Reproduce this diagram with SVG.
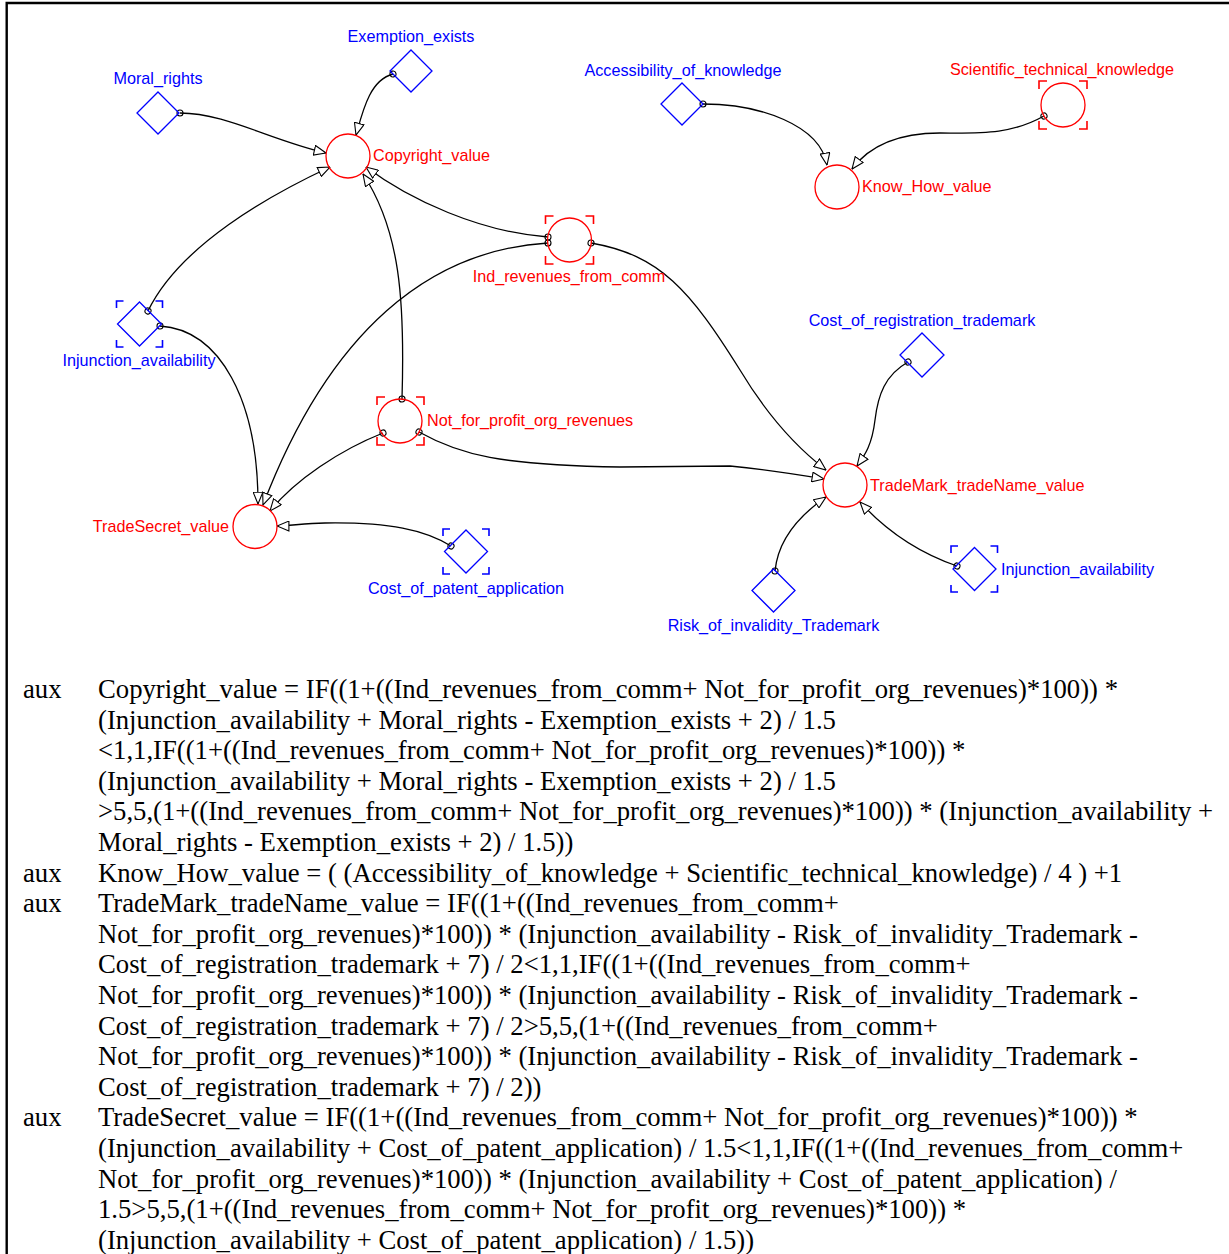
<svg xmlns="http://www.w3.org/2000/svg" width="1229" height="1254" viewBox="0 0 1229 1254">
<style>
.aux{fill:none;stroke:#0000ff;stroke-width:1.3}
.var{fill:none;stroke:#ff0000;stroke-width:1.3}
.brb{fill:none;stroke:#0000ff;stroke-width:1.6}
.brr{fill:none;stroke:#ff0000;stroke-width:1.6}
.lb{font-family:"Liberation Sans",Arial,sans-serif;font-size:16.2px;fill:#0000ff}
.lr{font-family:"Liberation Sans",Arial,sans-serif;font-size:16.2px;fill:#ff0000}
.c{text-anchor:middle}
.e{text-anchor:end}
.link{fill:none;stroke:#000;stroke-width:1.3;marker-start:url(#port);marker-end:url(#arr)}
.eq{font-family:"Liberation Serif","Times New Roman",serif;font-size:26.7px;fill:#000}
</style>
<defs>
<marker id="arr" viewBox="0 0 13 11" refX="12.5" refY="5.5" markerWidth="13" markerHeight="11" markerUnits="userSpaceOnUse" orient="auto">
<path d="M0.6,0.6 L12.5,5.5 L0.6,10.4 z" fill="#fff" stroke="#000" stroke-width="1.1"/>
</marker>
<marker id="port" viewBox="-4 -4 8 8" refX="0" refY="0" markerWidth="8" markerHeight="8" markerUnits="userSpaceOnUse" orient="auto">
<circle cx="0" cy="0" r="3" fill="none" stroke="#000" stroke-width="1.1"/>
</marker>
</defs>
<rect width="1229" height="1254" fill="#fff"/>
<path d="M5.5,3 H1229 M6.7,2 V1254" stroke="#000" stroke-width="2.4" fill="none"/>

<g id="connectors">
<path class="link" d="M180,113 C225,113 270,140 326,153"/>
<path class="link" d="M393,74 C370,80 363,110 356,135"/>
<path class="link" d="M148,311 C180,245 270,195 330,167"/>
<path class="link" d="M548,237 C480,232 410,200 366,167"/>
<path class="link" d="M402,399 C405,300 400,230 363,174"/>
<path class="link" d="M160,326 C220,330 258,400 258,504"/>
<path class="link" d="M548,243 C430,250 330,330 263,505"/>
<path class="link" d="M383,433 C340,450 295,480 270,511"/>
<path class="link" d="M451,546 C425,530 390,522 325,523 C305,523 290,526 277,526"/>
<path class="link" d="M591,243 C660,255 690,290 740,370 C770,420 800,450 826,470"/>
<path class="link" d="M419,432 C460,455 500,465 620,467 L730,466 C770,470 800,475 824,479"/>
<path class="link" d="M908,362 C885,375 878,395 875,420 C872,445 865,455 857,466"/>
<path class="link" d="M775,571 C778,540 800,515 826,497"/>
<path class="link" d="M957,566 C925,555 890,535 860,502"/>
<path class="link" d="M703,104 C760,104 820,125 827,165"/>
<path class="link" d="M1044,116 C1010,135 980,133 940,133 C900,133 870,145 852,169"/>
</g>

<g id="Moral_rights">
<polygon class="aux" points="158,92 179,113 158,134 137,113"/>
<text class="lb c" x="158" y="84">Moral_rights</text>
</g>
<g id="Exemption_exists">
<polygon class="aux" points="411,50 432,71 411,92 390,71"/>
<text class="lb c" x="411" y="42">Exemption_exists</text>
</g>
<g id="Copyright_value">
<circle class="var" cx="348" cy="156" r="22"/>
<text class="lr" x="373" y="161">Copyright_value</text>
</g>
<g id="Accessibility_of_knowledge">
<polygon class="aux" points="682,83 703,104 682,125 661,104"/>
<text class="lb c" x="683" y="76">Accessibility_of_knowledge</text>
</g>
<g id="Scientific_technical_knowledge">
<circle class="var" cx="1063" cy="105" r="22"/>
<path class="brr" d="M1039,89 V81 H1047 M1079,81 H1087 V89 M1087,121 V129 H1079 M1047,129 H1039 V121"/>
<text class="lr c" x="1062" y="75">Scientific_technical_knowledge</text>
</g>
<g id="Know_How_value">
<circle class="var" cx="837" cy="187" r="22"/>
<text class="lr" x="862" y="192">Know_How_value</text>
</g>
<g id="Ind_revenues_from_comm">
<circle class="var" cx="569.5" cy="240" r="22"/>
<path class="brr" d="M545.5,224 V216 H553.5 M585.5,216 H593.5 V224 M593.5,256 V264 H585.5 M553.5,264 H545.5 V256"/>
<text class="lr c" x="569" y="282">Ind_revenues_from_comm</text>
</g>
<g id="Injunction_availability_1">
<polygon class="aux" points="139.5,302 161.5,324 139.5,346 117.5,324"/>
<path class="brb" d="M116.5,308 V301 H123.5 M155.5,301 H162.5 V308 M162.5,340 V347 H155.5 M123.5,347 H116.5 V340"/>
<text class="lb c" x="139" y="366">Injunction_availability</text>
</g>
<g id="Not_for_profit_org_revenues">
<circle class="var" cx="400" cy="421" r="22"/>
<path class="brr" d="M377,405 V397 H385 M416,397 H424 V405 M424,437 V445 H416 M385,445 H377 V437"/>
<text class="lr" x="427" y="426">Not_for_profit_org_revenues</text>
</g>
<g id="TradeSecret_value">
<circle class="var" cx="255" cy="526.5" r="22"/>
<text class="lr e" x="229" y="532">TradeSecret_value</text>
</g>
<g id="Cost_of_patent_application">
<polygon class="aux" points="466,530 487.5,551.5 466,573 444.5,551.5"/>
<path class="brb" d="M443,536 V529 H450 M482,529 H489 V536 M489,567 V574 H482 M450,574 H443 V567"/>
<text class="lb c" x="466" y="594">Cost_of_patent_application</text>
</g>
<g id="TradeMark_tradeName_value">
<circle class="var" cx="845" cy="485" r="22"/>
<text class="lr" x="870" y="491">TradeMark_tradeName_value</text>
</g>
<g id="Cost_of_registration_trademark">
<polygon class="aux" points="922,333 944,355 922,377 900,355"/>
<text class="lb c" x="922" y="326">Cost_of_registration_trademark</text>
</g>
<g id="Risk_of_invalidity_Trademark">
<polygon class="aux" points="773.5,569 795,590.5 773.5,612 752,590.5"/>
<text class="lb c" x="773.5" y="631">Risk_of_invalidity_Trademark</text>
</g>
<g id="Injunction_availability_2">
<polygon class="aux" points="974.5,547.5 996,569 974.5,590.5 953,569"/>
<path class="brb" d="M951,553 V546 H958 M990.5,546 H997.5 V553 M997.5,585 V592 H990.5 M958,592 H951 V585"/>
<text class="lb" x="1001" y="575">Injunction_availability</text>
</g>

<g id="equations" class="eq">
<text x="23" y="698">aux</text>
<text x="98" y="698">Copyright_value = IF((1+((Ind_revenues_from_comm+ Not_for_profit_org_revenues)*100)) *</text>
<text x="98" y="728.6">(Injunction_availability + Moral_rights - Exemption_exists + 2) / 1.5</text>
<text x="98" y="759.2">&lt;1,1,IF((1+((Ind_revenues_from_comm+ Not_for_profit_org_revenues)*100)) *</text>
<text x="98" y="789.8">(Injunction_availability + Moral_rights - Exemption_exists + 2) / 1.5</text>
<text x="98" y="820.4">&gt;5,5,(1+((Ind_revenues_from_comm+ Not_for_profit_org_revenues)*100)) * (Injunction_availability +</text>
<text x="98" y="851">Moral_rights - Exemption_exists + 2) / 1.5))</text>
<text x="23" y="881.6">aux</text>
<text x="98" y="881.6">Know_How_value = ( (Accessibility_of_knowledge + Scientific_technical_knowledge) / 4 ) +1</text>
<text x="23" y="912.2">aux</text>
<text x="98" y="912.2">TradeMark_tradeName_value = IF((1+((Ind_revenues_from_comm+</text>
<text x="98" y="942.8">Not_for_profit_org_revenues)*100)) * (Injunction_availability - Risk_of_invalidity_Trademark -</text>
<text x="98" y="973.4">Cost_of_registration_trademark + 7) / 2&lt;1,1,IF((1+((Ind_revenues_from_comm+</text>
<text x="98" y="1004">Not_for_profit_org_revenues)*100)) * (Injunction_availability - Risk_of_invalidity_Trademark -</text>
<text x="98" y="1034.6">Cost_of_registration_trademark + 7) / 2&gt;5,5,(1+((Ind_revenues_from_comm+</text>
<text x="98" y="1065.2">Not_for_profit_org_revenues)*100)) * (Injunction_availability - Risk_of_invalidity_Trademark -</text>
<text x="98" y="1095.8">Cost_of_registration_trademark + 7) / 2))</text>
<text x="23" y="1126.4">aux</text>
<text x="98" y="1126.4">TradeSecret_value = IF((1+((Ind_revenues_from_comm+ Not_for_profit_org_revenues)*100)) *</text>
<text x="98" y="1157">(Injunction_availability + Cost_of_patent_application) / 1.5&lt;1,1,IF((1+((Ind_revenues_from_comm+</text>
<text x="98" y="1187.6">Not_for_profit_org_revenues)*100)) * (Injunction_availability + Cost_of_patent_application) /</text>
<text x="98" y="1218.2">1.5&gt;5,5,(1+((Ind_revenues_from_comm+ Not_for_profit_org_revenues)*100)) *</text>
<text x="98" y="1248.8">(Injunction_availability + Cost_of_patent_application) / 1.5))</text>
</g>
</svg>
